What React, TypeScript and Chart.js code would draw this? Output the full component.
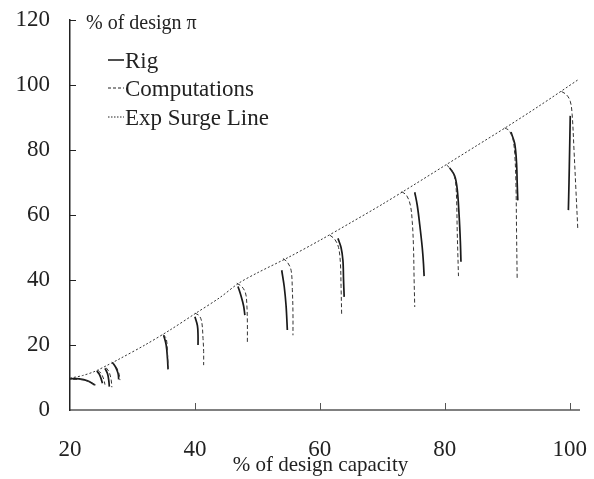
import React, { useEffect, useRef } from "react";
import { Chart, registerables } from "chart.js";
Chart.register(...registerables);

type Pt = [number, number];

const xTicks = [20, 40, 60, 80, 100];
const yTicks = [0, 20, 40, 60, 80, 100, 120];
const xTitle = "% of design capacity";
const legendTitle = "% of design \u03C0";
const seriesNames = ["Rig", "Computations", "Exp Surge Line"];

// Experimental surge line
const surgeLine: Pt[] = [
  [20, 9.8], [22, 10.6], [24, 11.9], [26, 13.8], [28, 15.8], [32, 20], [36, 24.6],
  [40, 29.6], [44, 34.6], [47, 39], [50, 42.2], [55, 47], [60, 52.2], [65, 57.7],
  [70, 63.3], [75, 69.2], [80, 75.2], [85, 81.2], [90, 87.2], [95, 93.4], [101.5, 101.8],
];

// Rig speed lines
const rig22: Pt[] = [[20, 9.6], [21.5, 9.6], [22.8, 9.0], [24.0, 7.7]];
const rig24: Pt[] = [[24.3, 12.0], [24.7, 11.0], [25.0, 9.5], [25.2, 8.2]];
const rig26: Pt[] = [[25.6, 12.8], [26.0, 11.2], [26.2, 9.2], [26.3, 7.2]];
const rig28: Pt[] = [[26.8, 14.6], [27.3, 13.2], [27.7, 11.2], [27.8, 9.4]];
const rig36: Pt[] = [[35.0, 23], [35.4, 20], [35.6, 16], [35.7, 12.5]];
const rig41: Pt[] = [[40.0, 28.7], [40.4, 26], [40.5, 23], [40.5, 20]];
const rig48: Pt[] = [[46.9, 38], [47.4, 35], [47.8, 32], [48.0, 29.2]];
const rig55: Pt[] = [[53.9, 43], [54.3, 38], [54.6, 32], [54.8, 24.6]];
const rig64: Pt[] = [[62.9, 52.8], [63.4, 50], [63.7, 46], [63.8, 40], [63.9, 34.8]];
const rig76: Pt[] = [[75.2, 67], [75.6, 63], [76.0, 57], [76.4, 50], [76.6, 45], [76.7, 41.2]];
const rig82: Pt[] = [[80.8, 74.5], [81.6, 72], [82.0, 68], [82.3, 60], [82.5, 52], [82.6, 45.6]];
const rig91: Pt[] = [[90.6, 85.5], [91.2, 82], [91.5, 76], [91.6, 70], [91.7, 64.5]];
const rig100: Pt[] = [[100.1, 90.5], [100.0, 80], [99.9, 70], [99.8, 61.5]];

// Computed speed lines
const comp22: Pt[] = [[20.5, 9.4], [22, 9.3], [23.3, 8.5], [24.3, 7.5]];
const comp24: Pt[] = [[24.5, 12.2], [25.0, 11.2], [25.4, 9.5], [25.6, 7.8]];
const comp26: Pt[] = [[25.8, 13.0], [26.3, 11.5], [26.6, 9.2], [26.7, 7.0]];
const comp28: Pt[] = [[26.7, 14.8], [27.3, 13.6], [27.8, 11.5], [28.0, 9.2]];
const comp36: Pt[] = [[34.9, 23.2], [35.4, 22], [35.6, 18], [35.7, 13]];
const comp41: Pt[] = [[40.0, 29.8], [40.7, 29], [41.1, 27], [41.3, 22], [41.4, 18], [41.4, 13.8]];
const comp48: Pt[] = [[46.7, 39], [47.5, 38], [48.1, 36], [48.3, 33], [48.4, 27], [48.4, 20.5]];
const comp55: Pt[] = [[54.1, 46.6], [54.8, 45.5], [55.4, 43], [55.6, 37], [55.7, 30], [55.7, 23]];
const comp63: Pt[] = [[61.6, 53.8], [62.4, 52.5], [63.0, 50], [63.3, 45], [63.4, 38], [63.5, 29.2]];
const comp75: Pt[] = [[73.1, 67.2], [73.9, 66], [74.5, 63], [74.8, 58], [75.0, 50], [75.1, 40], [75.2, 31.7]];
const comp82: Pt[] = [[80.3, 75.4], [81.2, 73.5], [81.7, 70.5], [81.9, 65], [82.0, 55], [82.1, 48], [82.2, 41.2]];
const comp91: Pt[] = [[89.6, 86.8], [90.3, 86], [90.9, 83.5], [91.2, 79], [91.4, 70], [91.5, 55], [91.6, 40.3]];
const comp100: Pt[] = [[98.7, 98], [99.5, 97], [100.1, 95], [100.4, 91], [100.7, 80], [101.0, 68], [101.3, 56]];

const rigLines = [rig22, rig24, rig26, rig28, rig36, rig41, rig48, rig55, rig64, rig76, rig82, rig91, rig100];
const compLines = [comp22, comp24, comp26, comp28, comp36, comp41, comp48, comp55, comp63, comp75, comp82, comp91, comp100];

const FONT = '"Liberation Serif", "Times New Roman", serif';
const INK = "#222";

function joinSegments(segs: Pt[][]) {
  const out: { x: number; y: number | null }[] = [];
  segs.forEach((s, i) => {
    if (i > 0) out.push({ x: s[0][0], y: null });
    s.forEach(([x, y]) => out.push({ x, y }));
  });
  return out;
}

const decorPlugin = {
  id: "decor",
  afterDraw(chart: any) {
    const { ctx, chartArea, scales } = chart;
    const xs = scales.x;
    const ys = scales.y;
    ctx.save();
    // inner tick marks
    ctx.strokeStyle = INK;
    ctx.lineWidth = 1;
    ctx.setLineDash([]);
    yTicks.forEach((v) => {
      if (v === 0) return;
      const py = Math.round(ys.getPixelForValue(v)) + 0.5;
      ctx.beginPath();
      ctx.moveTo(chartArea.left, py);
      ctx.lineTo(chartArea.left + 6, py);
      ctx.stroke();
    });
    ctx.strokeStyle = "#555";
    xTicks.forEach((v) => {
      if (v === 20) return;
      const px = Math.round(xs.getPixelForValue(v)) + 0.5;
      ctx.beginPath();
      ctx.moveTo(px, chartArea.bottom);
      ctx.lineTo(px, chartArea.bottom - 7);
      ctx.stroke();
    });

    // x axis title
    ctx.fillStyle = INK;
    ctx.font = `21px ${FONT}`;
    ctx.textAlign = "center";
    ctx.textBaseline = "middle";
    ctx.fillText(xTitle, (chartArea.left + chartArea.right) / 2 - 4, 465);

    // legend
    const lx = chartArea.left + 16;
    ctx.textAlign = "left";
    ctx.font = `20px ${FONT}`;
    ctx.fillText(legendTitle, lx, chartArea.top + 4);
    const rows = [
      { dash: [] as number[], w: 1.6, y: 62 },
      { dash: [3, 2], w: 1, y: 90 },
      { dash: [1.5, 1.5], w: 1, y: 119 },
    ];
    ctx.font = `23px ${FONT}`;
    rows.forEach((r, i) => {
      ctx.strokeStyle = INK;
      ctx.lineWidth = r.w;
      ctx.setLineDash(r.dash);
      ctx.beginPath();
      ctx.moveTo(lx + 22, r.y - 2);
      ctx.lineTo(lx + 38, r.y - 2);
      ctx.stroke();
      ctx.setLineDash([]);
      ctx.fillText(seriesNames[i], lx + 39, r.y);
    });
    ctx.restore();
  },
};

export default function App() {
  const ref = useRef<HTMLCanvasElement>(null);
  useEffect(() => {
    document.body.style.margin = "0";
    const canvas = ref.current!;
    const chart = new Chart(canvas, {
      type: "line",
      data: {
        datasets: [
          {
            label: seriesNames[2],
            data: joinSegments([surgeLine]),
            borderColor: "#333",
            borderWidth: 1,
            borderDash: [2, 2],
            pointRadius: 0,
            tension: 0.3,
            fill: false,
          },
          {
            label: seriesNames[1],
            data: joinSegments(compLines),
            borderColor: "#333",
            borderWidth: 1,
            borderDash: [4, 2.5],
            pointRadius: 0,
            tension: 0.35,
            spanGaps: false,
            fill: false,
          },
          {
            label: seriesNames[0],
            data: joinSegments(rigLines),
            borderColor: "#1a1a1a",
            borderWidth: 1.7,
            pointRadius: 0,
            tension: 0.35,
            spanGaps: false,
            fill: false,
          },
        ],
      },
      options: {
        animation: false,
        responsive: false,
        maintainAspectRatio: false,
        layout: { padding: { left: 0, right: 15, top: 20, bottom: 0 } },
        plugins: {
          legend: { display: false },
          tooltip: { enabled: false },
          title: { display: false },
        },
        elements: { point: { radius: 0 } },
        scales: {
          x: {
            type: "linear",
            min: 20,
            max: 101.5,
            afterBuildTicks: (s: any) => {
              s.ticks = xTicks.map((v) => ({ value: v }));
            },
            afterFit: (s: any) => {
              s.height = 69;
              s.paddingLeft = 0;
              s.paddingRight = 0;
            },
            grid: { display: false, drawTicks: false },
            border: { display: true, color: "#808080", width: 2 },
            ticks: {
              padding: 26,
              autoSkip: false,
              maxRotation: 0,
              color: INK,
              font: { family: FONT, size: 23 },
            },
          },
          y: {
            type: "linear",
            min: 0,
            max: 120,
            afterBuildTicks: (s: any) => {
              s.ticks = yTicks.map((v) => ({ value: v }));
            },
            afterFit: (s: any) => {
              s.width = 70;
              s.paddingTop = 0;
              s.paddingBottom = 0;
            },
            grid: { display: false, drawTicks: false },
            border: { display: true, color: INK, width: 1.5 },
            ticks: {
              padding: 20,
              color: INK,
              font: { family: FONT, size: 23 },
            },
          },
        },
      },
      plugins: [decorPlugin],
    });
    return () => chart.destroy();
  }, []);
  return (
    <div style={{ width: 594, height: 479 }}>
      <canvas ref={ref} width={594} height={479} style={{ display: "block" }} />
    </div>
  );
}
